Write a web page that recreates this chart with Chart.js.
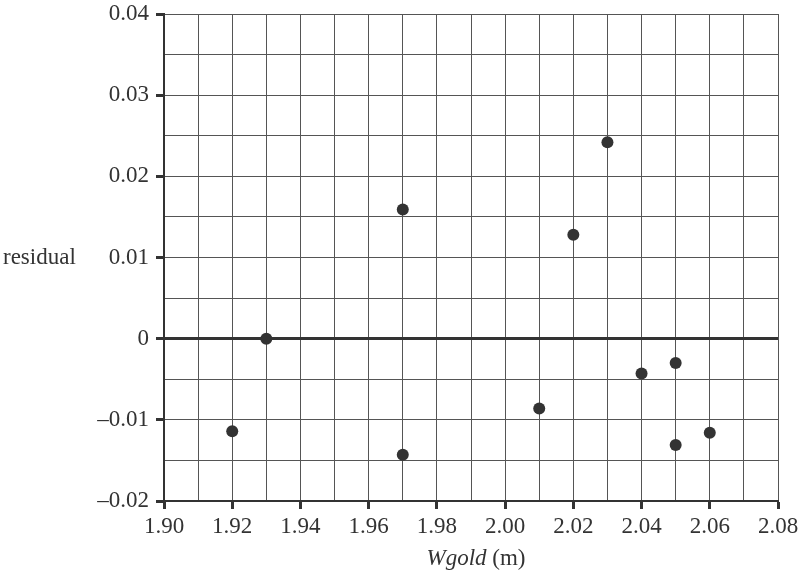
<!DOCTYPE html>
<html>
<head>
<meta charset="utf-8">
<script src="https://cdn.jsdelivr.net/npm/chart.js@4"></script>
<style>
  body { margin: 0; background: #fff; }
  #wrap { width: 801px; height: 573px; }
</style>
</head>
<body>
<div id="wrap"><canvas id="resid"></canvas></div>
<script>
// residual plot data
var wgold = [1.92, 1.93, 1.97, 1.97, 2.01, 2.02, 2.03, 2.04, 2.05, 2.05, 2.06];
var residual = [-0.0114, 0, 0.0159, -0.0143, -0.0086, 0.0128, 0.0242, -0.0043, -0.0030, -0.0131, -0.0116];
var xTicks = [1.90, 1.92, 1.94, 1.96, 1.98, 2.00, 2.02, 2.04, 2.06, 2.08];
var yTicks = [-0.02, -0.01, 0, 0.01, 0.02, 0.03, 0.04];

var serif = '"Liberation Serif", "Times New Roman", serif';
var ink = '#333';

function isMajor(v, list) {
    return list.some(function (t) { return Math.abs(t - v) < 1e-9; });
}

// axis titles drawn by hand (x title has an italic part)
var titles = {
    id: 'titles',
    afterDraw: function (chart) {
        var c = chart.ctx, a = chart.chartArea;
        c.save();
        c.fillStyle = ink;
        c.textBaseline = 'middle';
        c.font = '23px ' + serif;
        c.textAlign = 'left';
        c.fillText('residual', 3, 258);

        var ital = 'italic 23px ' + serif, norm = '23px ' + serif;
        c.font = ital;
        var w1 = c.measureText('Wgold').width;
        c.font = norm;
        var w2 = c.measureText(' (m)').width;
        var x0 = 476 - (w1 + w2) / 2;
        c.font = ital;
        c.fillText('Wgold', x0, 559);
        c.font = norm;
        c.fillText(' (m)', x0 + w1, 559);
        c.restore();
    }
};

var ctx = document.getElementById('resid');
var chart = new Chart(ctx, {
    type: 'scatter',
    data: {
        datasets: [{
            data: wgold.map(function (x, i) { return { x: x, y: residual[i] }; }),
            backgroundColor: ink,
            borderWidth: 0,
            pointRadius: 6,
            pointHoverRadius: 6
        }]
    },
    options: {
        responsive: true,
        maintainAspectRatio: false,
        animation: false,
        layout: { padding: { left: 90, right: 23, top: 14, bottom: 0 } },
        plugins: { legend: { display: false }, tooltip: { enabled: false } },
        scales: {
            x: {
                type: 'linear',
                min: 1.90,
                max: 2.08,
                afterFit: function (s) { s.height = 72; s.paddingLeft = 0; s.paddingRight = 0; },
                ticks: {
                    stepSize: 0.01,
                    autoSkip: false,
                    maxRotation: 0,
                    padding: 4,
                    color: ink,
                    font: { family: serif, size: 23 },
                    callback: function (v) { return isMajor(v, xTicks) ? v.toFixed(2) : ''; }
                },
                grid: {
                    color: '#555',
                    lineWidth: 1,
                    tickLength: 8,
                    tickWidth: 3,
                    tickColor: function (c) { return c.tick && isMajor(c.tick.value, xTicks) ? ink : 'rgba(0,0,0,0)'; }
                },
                border: { color: ink, width: 2 }
            },
            y: {
                min: -0.02,
                max: 0.04,
                afterFit: function (s) { s.width = 74; s.paddingTop = 0; s.paddingBottom = 0; },
                ticks: {
                    stepSize: 0.005,
                    autoSkip: false,
                    padding: 7,
                    color: ink,
                    font: { family: serif, size: 23 },
                    callback: function (v) {
                        if (!isMajor(v, yTicks)) return '';
                        if (Math.abs(v) < 1e-9) return '0';
                        return (v < 0 ? '\u2013' : '') + Math.abs(v).toFixed(2);
                    }
                },
                grid: {
                    color: function (c) { return c.tick && Math.abs(c.tick.value) < 1e-9 ? '#333' : '#555'; },
                    lineWidth: function (c) { return c.tick && Math.abs(c.tick.value) < 1e-9 ? 3 : 1; },
                    tickLength: 8,
                    tickWidth: 3,
                    tickColor: function (c) { return c.tick && isMajor(c.tick.value, yTicks) ? ink : 'rgba(0,0,0,0)'; }
                },
                border: { color: ink, width: 2 }
            }
        }
    },
    plugins: [titles]
});
</script>
</body>
</html>
